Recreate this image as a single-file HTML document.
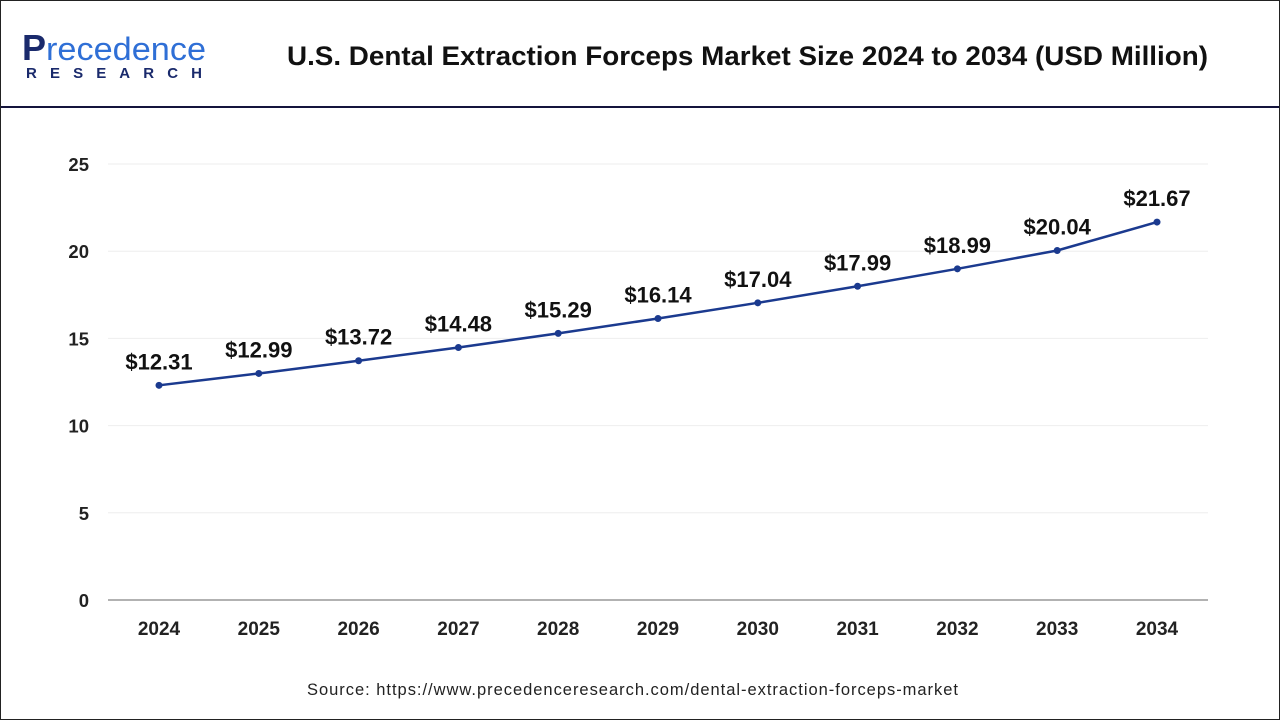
<!DOCTYPE html>
<html><head><meta charset="utf-8"><style>
body{margin:0;width:1280px;height:720px;background:#fff;font-family:"Liberation Sans",sans-serif;overflow:hidden}
#frame{position:absolute;left:0;top:0;width:1278px;height:718px;border:1px solid #222}
</style></head><body>
<div id="frame"></div>
<svg width="1280" height="720" style="position:absolute;left:0;top:0">
<g>
<text x="22" y="60" font-size="36" font-weight="bold" fill="#1a2a6c">P</text>
<text x="46" y="60" font-size="32" fill="#2f6fd6" textLength="160" lengthAdjust="spacingAndGlyphs">recedence</text>
<text x="26" y="78" font-size="15" font-weight="bold" fill="#1a2a6c" textLength="176">RESEARCH</text>
</g>
<text x="287" y="65" font-size="27" font-weight="bold" fill="#111" textLength="921" lengthAdjust="spacingAndGlyphs">U.S. Dental Extraction Forceps Market Size 2024 to 2034 (USD Million)</text>
<line x1="1" y1="107" x2="1279" y2="107" stroke="#14143c" stroke-width="2"/>
<g id="grid"></g><g id="axes"></g><g id="series"></g>
<text x="307" y="695" font-size="16.5" fill="#222" textLength="651">Source: https://www.precedenceresearch.com/dental-extraction-forceps-market</text>
</svg>
<script>
const categories=["2024","2025","2026","2027","2028","2029","2030","2031","2032","2033","2034"];
const values=[12.31,12.99,13.72,14.48,15.29,16.14,17.04,17.99,18.99,20.04,21.67];
const valueLabels=["$12.31","$12.99","$13.72","$14.48","$15.29","$16.14","$17.04","$17.99","$18.99","$20.04","$21.67"];
const yTicks=[0,5,10,15,20,25];
const NS="http://www.w3.org/2000/svg";
const x=i=>159+i*99.8, y=v=>600-v*17.44;
function mk(p,t,a,txt){const e=document.createElementNS(NS,t);for(const k in a)e.setAttribute(k,a[k]);if(txt!=null)e.textContent=txt;document.getElementById(p).appendChild(e);return e;}
yTicks.forEach(v=>{
 if(v>0){const g=mk('grid','line',{x1:108,x2:1208,y1:y(v),y2:y(v),stroke:'#eee','stroke-width':1});
 
 }
 const t=mk('axes','text',{x:89,y:y(v)+7,'font-size':18.5,'font-weight':'bold','text-anchor':'end',fill:'#222'},String(v));
 
 
});
const ax=mk('axes','line',{x1:108,x2:1208,y1:600,y2:600,stroke:'#999','stroke-width':1.5});


categories.forEach((c,i)=>{
 const t=mk('axes','text',{x:x(i),y:635,'font-size':19,'font-weight':'bold','text-anchor':'middle',fill:'#222'},c);
 
 
});
const line=mk('series','polyline',{points:values.map((v,i)=>x(i)+','+y(v)).join(' '),fill:'none',stroke:'#1b3a8f','stroke-width':2.5});


values.forEach((v,i)=>{
 const c=mk('series','circle',{cx:x(i),cy:y(v),r:3.5,fill:'#1b3a8f'});
 
 
 const t=mk('series','text',{x:x(i),y:y(v)-16,'font-size':22,'font-weight':'bold','text-anchor':'middle',fill:'#111'},valueLabels[i]);
 
 
});
</script>
</body></html>
